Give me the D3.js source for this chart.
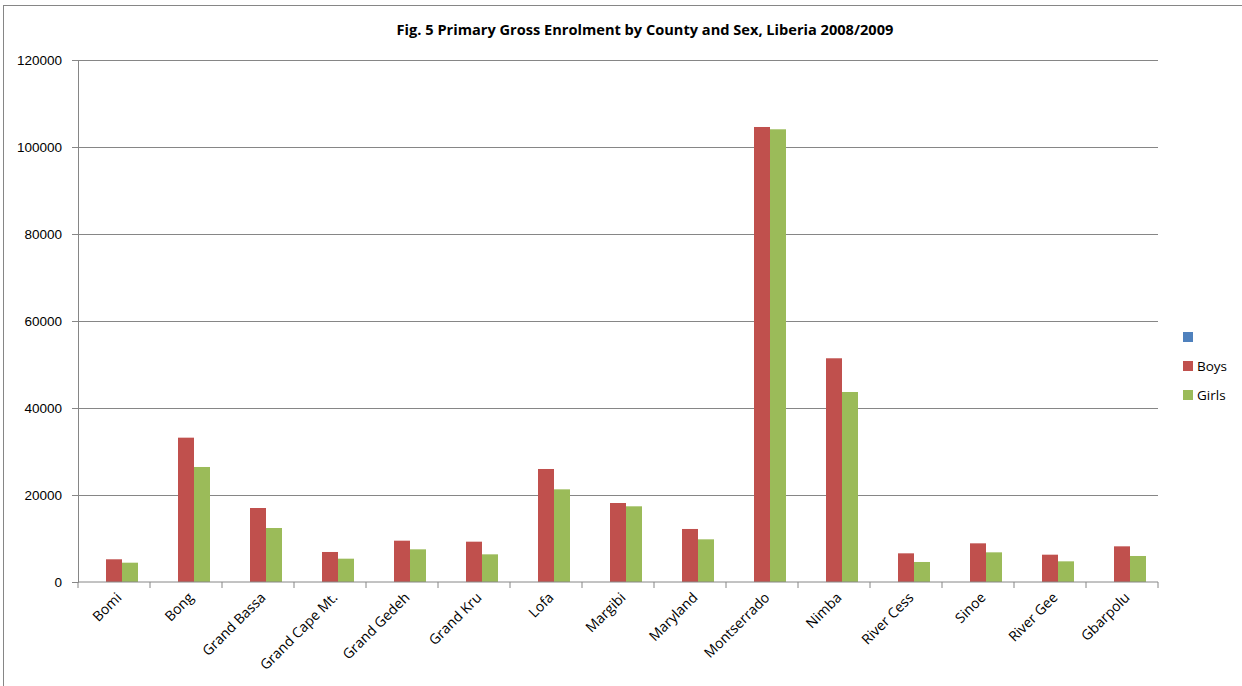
<!DOCTYPE html>
<html>
<head>
<meta charset="utf-8">
<script src="https://cdn.jsdelivr.net/npm/d3@7"></script>
<style>
  body { margin: 0; background: #fff; }
  svg { display: block; font-family: "Open Sans", "Liberation Sans", sans-serif; }
</style>
</head>
<body>
<div id="container"></div>
<script>
const w = 1242;
const h = 686;

// data
let counties = ["Bomi", "Bong", "Grand Bassa", "Grand Cape Mt.", "Grand Gedeh", "Grand Kru", "Lofa",
  "Margibi", "Maryland", "Montserrado", "Nimba", "River Cess", "Sinoe", "River Gee", "Gbarpolu"];
let seriesNames = ["", "Boys", "Girls"];
let seriesColors = ["#4F81BD", "#C0504D", "#9BBB59"];
let blank = [0, 0, 0, 0, 0, 0, 0, 0, 0, 0, 0, 0, 0, 0, 0];
let boys = [5220, 33180, 17010, 6900, 9500, 9270, 25980, 18160, 12190, 104600, 51430, 6590, 8890, 6280, 8200];
let girls = [4440, 26440, 12410, 5360, 7510, 6360, 21300, 17400, 9810, 104070, 43680, 4600, 6820, 4750, 5980];
let yTicks = [0, 20000, 40000, 60000, 80000, 100000, 120000];

let series = [blank, boys, girls];

const plotLeft = 78, plotRight = 1158, plotTop = 60, plotBottom = 582;

let viz = d3.select("#container").append("svg").attr("width", w).attr("height", h);

// outer chart frame
viz.append("rect")
  .attr("x", 3.5).attr("y", 5.5)
  .attr("width", 1300).attr("height", 800)
  .attr("fill", "none").attr("stroke", "#868686").attr("stroke-width", 1);

viz.append("text")
  .attr("x", 645).attr("y", 35)
  .attr("text-anchor", "middle")
  .attr("font-weight", "bold")
  .attr("font-size", 14.6)
  .attr("fill", "#000")
  .text("Fig. 5 Primary Gross Enrolment by County and Sex, Liberia 2008/2009");

let xScale = d3.scaleBand().domain(counties).range([plotLeft, plotRight]);
// 3 slots per county, gap width 150%
let slot = d3.scaleBand().domain([0, 1, 2]).range([0, xScale.bandwidth()]).paddingOuter(0.75);
let yScale = d3.scaleLinear().domain([0, 120000]).range([plotBottom, plotTop]);

// gridlines + y axis
let yAxis = d3.axisLeft(yScale).tickValues(yTicks).tickSize(6).tickFormat(d3.format("d"));
let yAxisGroup = viz.append("g").attr("class", "yaxis")
  .attr("transform", "translate(" + plotLeft + ",0)")
  .call(yAxis);
yAxisGroup.select(".domain").attr("stroke", "#868686");
yAxisGroup.selectAll(".tick line").attr("stroke", "#868686");
yAxisGroup.selectAll(".tick text").attr("font-size", 13.5).attr("fill", "#000").attr("x", -16);
yAxisGroup.selectAll(".tick").filter(d => d > 0).append("line")
  .attr("x1", 0).attr("x2", plotRight - plotLeft)
  .attr("stroke", "#868686");

// bars
for (let s = 0; s < series.length; s++) {
  viz.append("g").selectAll("rect").data(series[s]).enter()
    .append("rect")
    .attr("x", (d, i) => xScale(counties[i]) + slot(s))
    .attr("y", d => yScale(d))
    .attr("width", slot.bandwidth())
    .attr("height", d => plotBottom - yScale(d))
    .attr("fill", seriesColors[s]);
}

// x axis
let xAxisGroup = viz.append("g").attr("class", "xaxis")
  .attr("transform", "translate(0," + plotBottom + ")");
xAxisGroup.append("line").attr("x1", plotLeft).attr("x2", plotRight).attr("stroke", "#868686");
let bounds = counties.map(c => xScale(c)).concat([plotRight]);
xAxisGroup.selectAll(".xtick").data(bounds).enter()
  .append("line")
  .attr("x1", d => d).attr("x2", d => d)
  .attr("y1", 0).attr("y2", 6)
  .attr("stroke", "#868686");
xAxisGroup.selectAll(".xlabel").data(counties).enter()
  .append("text")
  .attr("transform", d => "translate(" + (xScale(d) + xScale.bandwidth() / 2 + 5) + ",13) rotate(-45)")
  .attr("text-anchor", "end")
  .attr("font-size", 14)
  .attr("fill", "#000")
  .attr("dy", "0.35em")
  .text(d => d);

// legend
let legend = viz.append("g").selectAll("g").data(seriesNames).enter()
  .append("g")
  .attr("transform", (d, i) => "translate(1183," + (332 + i * 29) + ")");
legend.append("rect").attr("width", 10).attr("height", 10).attr("fill", (d, i) => seriesColors[i]);
legend.append("text").attr("x", 14).attr("y", 5).attr("dy", "0.35em")
  .attr("font-size", 13.5).attr("fill", "#000").text(d => d);
</script>
</body>
</html>
